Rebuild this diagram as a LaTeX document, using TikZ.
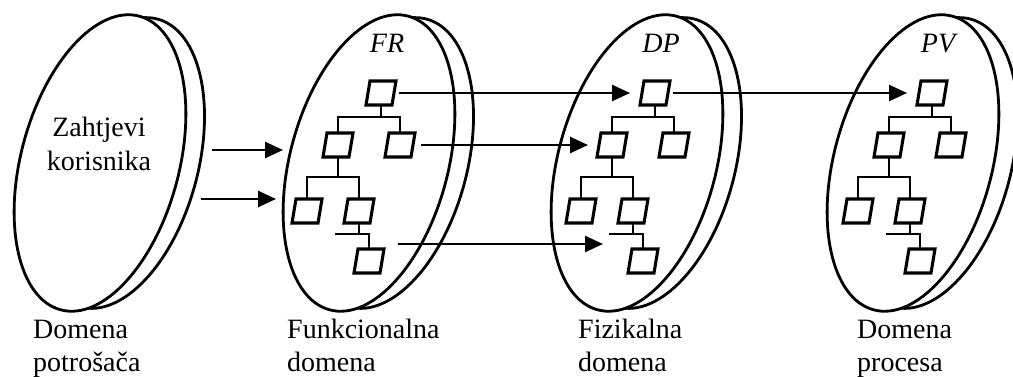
\documentclass[tikz,border=0pt]{standalone}
\usepackage{fontspec}
\setmainfont{Liberation Serif}
\usetikzlibrary{arrows.meta,shapes.geometric,calc}
\newcommand\pbox[2]{%
  \node[fbox] (#1) at (#2) {};
  \draw[boxline] ($(#1.south west)+(-2,0)$) -- ($(#1.south east)+(-2,0)$)
     -- ($(#1.north east)+(2,0)$) -- ($(#1.north west)+(2,0)$) -- cycle;
}
\newcommand\domtree[3]{%
  \pbox{#1a}{#2,#3}
  \pbox{#1b}{{#2-43},{#3+52}}
  \pbox{#1c}{{#2+19},{#3+52}}
  \pbox{#1d}{{#2-74},{#3+118}}
  \pbox{#1e}{{#2-22},{#3+118}}
  \pbox{#1f}{{#2-12},{#3+168}}
  \coordinate (#1j1) at ($(#1a.south)+(0,12)$);
  \draw[link] (#1a.south) -- (#1j1);
  \draw[link] (#1b.north) |- (#1j1) -| (#1c.north);
  \coordinate (#1j2) at ($(#1b.south)+(0,20)$);
  \draw[link] (#1b.south) -- (#1j2);
  \draw[link] (#1d.north) |- (#1j2) -| (#1e.north);
  \coordinate (#1j3) at ($(#1e.south)+(0,11)$);
  \coordinate (#1j3l) at ($(#1j3)+(-24,0)$);
  \draw[link] (#1e.south) -- (#1j3);
  \draw[link] (#1j3l) -- (#1j3) -| (#1f.north);
}
\begin{document}
\begin{tikzpicture}[x=1pt,y=-1pt,
  disc/.style={ellipse, draw, line width=2.8pt, fill=white, minimum width=158pt,
    minimum height=304pt, inner sep=0pt, rotate=-15},
  backdisc/.style={disc, minimum height=298pt},
  fbox/.style={rectangle, minimum width=26pt, minimum height=24pt, inner sep=0pt, outer sep=0pt},
  boxline/.style={line width=3.1pt, line join=miter},
  link/.style={line width=1.3pt},
  arr/.style={line width=2.6pt, -{Triangle[length=18pt,width=16pt]}},
  lab/.style={font=\fontsize{28}{33}\selectfont, align=left, anchor=base west, inner sep=0pt},
  mid/.style={font=\fontsize{28}{34}\selectfont, align=center, anchor=base, inner sep=0pt},
  top/.style={font=\fontsize{28}{30}\selectfont\itshape, anchor=base, inner sep=0pt}]
\useasboundingbox (0,0) rectangle (1013,377);
% discs
\node[backdisc] (d1b) at (119,163) {};
\node[disc] (d1) at (100,163) {};
\node[backdisc] (d2b) at (388,163) {};
\node[disc] (d2) at (369,163) {};
\node[backdisc] (d3b) at (656,163) {};
\node[disc] (d3) at (637,163) {};
\node[backdisc] (d4b) at (932,163) {};
\node[disc] (d4) at (913,163) {};
% texts in discs
\node[mid] (zk) at (99,171) {Zahtjevi\\korisnika};
\node[top] (tfr) at (387,53) {FR};
\node[top] (tdp) at (661,53) {DP};
\node[top] (tpv) at (938,53) {PV};
% trees
\domtree{fr}{381}{93}
\domtree{dp}{655}{93}
\domtree{pv}{932}{93}
% arrows
\coordinate (s1) at (212,150);
\coordinate (e1) at (283,150);
\coordinate (s2) at (201,199);
\coordinate (e2) at (276,199);
\draw[arr] (s1) -- (e1);
\draw[arr] (s2) -- (e2);
\draw[arr, shorten <=5pt, shorten >=12pt] (fra.east) -- (fra.east -| dpa.west);
\draw[arr, shorten <=8pt, shorten >=11pt] (frc.east) -- (frc.east -| dpb.west);
\coordinate (s3) at (398,244);
\coordinate (e3) at (603,244);
\draw[arr] (s3) -- (e3);
\draw[arr, shorten <=5pt, shorten >=12pt] (dpa.east) -- (dpa.east -| pva.west);
% bottom labels
\node[lab] (l1) at (33,371) {Domena\\potrošača};
\node[lab] (l2) at (287,371) {Funkcionalna\\domena};
\node[lab] (l3) at (578,371) {Fizikalna\\domena};
\node[lab] (l4) at (857,371) {Domena\\procesa};
\end{tikzpicture}
\end{document}
